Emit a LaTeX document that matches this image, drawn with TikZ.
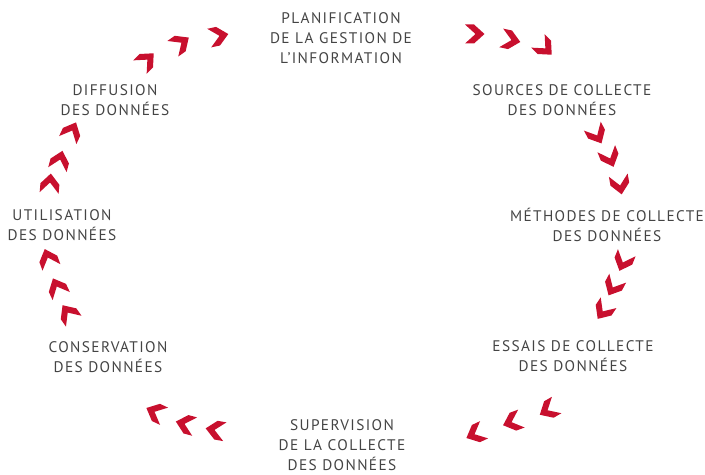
\documentclass[tikz,border=0pt]{standalone}
\usepackage{fontspec}
\setmainfont[LetterSpace=9]{PT Sans}
\usetikzlibrary{positioning}
\definecolor{chevred}{RGB}{200,16,46}
\definecolor{labgrey}{RGB}{68,68,68}

\begin{document}
\begin{tikzpicture}[x=0.75pt,y=0.75pt,yscale=-1,xscale=1,
    lab/.style={color=labgrey,inner sep=0.75pt,align=center,font=\fontsize{11.5}{15.2}\selectfont},
    chev/.pic={\fill[chevred] (-10,-9.5) -- (-1,-9.5) -- (9.5,0) -- (-1,9.5) -- (-10,9.5) -- (0.5,0) -- cycle;}]
        \useasboundingbox (0,0) rectangle (705,474);
        % Text Node
        \node [lab] (plan) at (341,38) {PLANIFICATION\\DE LA GESTION DE\\L’INFORMATION};
        % Text Node
        \node [lab] (sources) at (562,100) {SOURCES DE COLLECTE\\DES DONNÉES};
        % Text Node
        \node [lab] (methodes) at (607,225) {MÉTHODES DE COLLECTE\\DES DONNÉES};
        % Text Node
        \node [lab] (essais) at (573,356) {ESSAIS DE COLLECTE\\DES DONNÉES};
        % Text Node
        \node [lab] (supervision) at (342,445) {SUPERVISION\\DE LA COLLECTE\\DES DONNÉES};
        % Text Node
        \node [lab] (conservation) at (108,357) {CONSERVATION\\DES DONNÉES};
        % Text Node
        \node [lab] (utilisation) at (62,225) {UTILISATION\\DES DONNÉES};
        % Text Node
        \node [lab] (diffusion) at (115,100) {DIFFUSION\\DES DONNÉES};
        %Chevrons: planification -> sources
        \pic [rotate=0] at (475,34) {chev};
        \pic [rotate=-12] at (511,40) {chev};
        \pic [rotate=-45] at (545,48) {chev};
        %Chevrons: sources -> methodes
        \pic [rotate=-62] at (597,135) {chev};
        \pic [rotate=-68] at (610,158) {chev};
        \pic [rotate=-80] at (620,185) {chev};
        %Chevrons: methodes -> essais
        \pic [rotate=-112] at (623,262) {chev};
        \pic [rotate=-118] at (613,287) {chev};
        \pic [rotate=-124] at (603,311) {chev};
        %Chevrons: essais -> supervision
        \pic [rotate=-150] at (548,410) {chev};
        \pic [rotate=-160] at (512,422) {chev};
        \pic [rotate=-155] at (475,434) {chev};
        %Chevrons: supervision -> conservation
        \pic [rotate=-190] at (215,430) {chev};
        \pic [rotate=-195] at (185,424) {chev};
        \pic [rotate=-205] at (155,412) {chev};
        %Chevrons: conservation -> utilisation
        \pic [rotate=-235] at (68,313) {chev};
        \pic [rotate=-245] at (57,287) {chev};
        \pic [rotate=-250] at (48,258) {chev};
        %Chevrons: utilisation -> diffusion
        \pic [rotate=-275] at (50,183) {chev};
        \pic [rotate=-285] at (60,160) {chev};
        \pic [rotate=-295] at (72,131) {chev};
        %Chevrons: diffusion -> planification
        \pic [rotate=45] at (147,60) {chev};
        \pic [rotate=35] at (181,43) {chev};
        \pic [rotate=12] at (219,36) {chev};
    \end{tikzpicture}
\end{document}
